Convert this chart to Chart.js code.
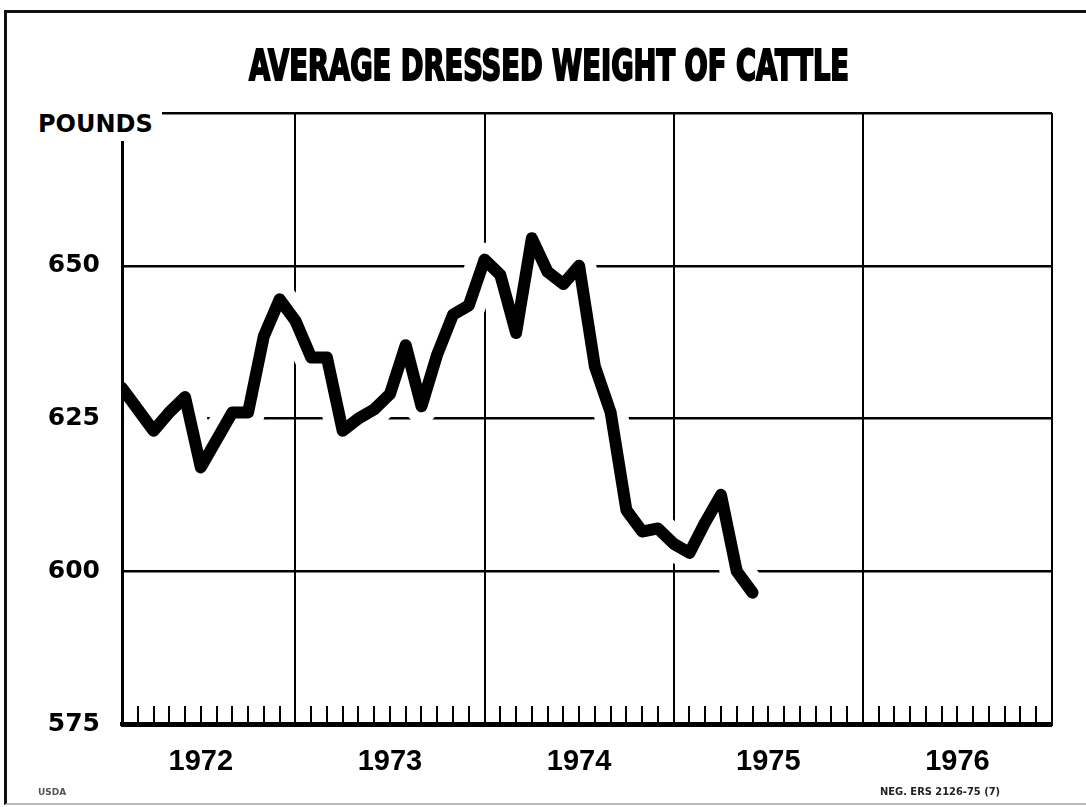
<!DOCTYPE html>
<html lang="en">
<head>
  <meta charset="UTF-8" />
  <title>Average Dressed Weight of Cattle</title>
  <script src="https://cdn.jsdelivr.net/npm/chart.js"></script>
  <style>
    html, body { margin: 0; padding: 0; background: #fff; }
    #page { position: relative; width: 1086px; height: 807px; overflow: hidden; background: #fff; }
    #frame {
      position: absolute; left: 4px; top: 10px; width: 1100px; height: 790px;
      border-left: 3px solid #111; border-top: 3px solid #111; border-bottom: 2px solid #bbb;
    }
    #chart { position: absolute; left: 0; top: 0; }
    #title {
      position: absolute; left: 249px; top: 45px;
      font: bold 42px "Liberation Sans Narrow", "DejaVu Sans Condensed", sans-serif;
      line-height: 1; white-space: nowrap; color: #000;
      -webkit-text-stroke: 2px #000; transform-origin: 0 0;
    }
    #pounds { position: absolute; left: 28px; top: 100px; width: 134px; height: 41px; background: #fff; }
    #pounds span {
      position: absolute; left: 10px; top: 12px;
      font: bold 24px "DejaVu Sans", sans-serif; line-height: 1; color: #000;
    }
    .note { position: absolute; font-weight: bold; white-space: nowrap; color: #222; }
    #usda { left: 38px; top: 787px; font-size: 9px; font-family: "DejaVu Sans", sans-serif; color: #555; }
    #neg { left: 880px; top: 785px; font-size: 11px; font-family: "DejaVu Sans Condensed", "DejaVu Sans", sans-serif; }
  </style>
</head>
<body>
  <div id="page">
    <div id="frame"></div>
    <canvas id="chart" width="1086" height="807"></canvas>
    <div id="title">AVERAGE DRESSED WEIGHT OF CATTLE</div>
    <div id="pounds"><span>POUNDS</span></div>
    <div class="note" id="usda">USDA</div>
    <div class="note" id="neg">NEG. ERS 2126-75 (7)</div>
  </div>

  <script>
    // month index: Jan 1972 = 0; the plotted series starts one month in (Feb 1972)
    const firstMonth = 1;
    const weights = [
      630, 626.5, 623, 626, 628.5, 617, 621.5, 626, 626, 638.5, 644.5, 641,
      635, 635, 623, 625, 626.5, 629, 637, 627, 635.5, 642, 643.5, 651,
      648.5, 639, 654.5, 649, 647, 650, 633.5, 626, 610, 606.5, 607, 604.5,
      603, 608, 612.5, 600, 596.5
    ];
    const yearLabels = ['1972', '1973', '1974', '1975', '1976'];
    const yTicks = [575, 600, 625, 650, 675];
    const yLabels = ['575', '600', '625', '650', ''];

    const points = weights.map((w, i) => ({ x: firstMonth + i, y: w }));
    const monthTicks = [];
    for (let m = 2; m <= 60; m++) monthTicks.push(m);

    const ctx = document.getElementById('chart').getContext('2d');
    new Chart(ctx, {
      type: 'line',
      data: {
        datasets: [
          {
            // white halo so the grid breaks around the curve
            label: 'halo',
            data: points,
            borderColor: '#fff',
            borderWidth: 34,
            borderJoinStyle: 'round',
            borderCapStyle: 'round',
            pointRadius: 0,
            tension: 0,
            clip: 0,
            order: 2
          },
          {
            label: 'Pounds',
            data: points,
            borderColor: '#000',
            borderWidth: 12,
            borderJoinStyle: 'round',
            borderCapStyle: 'round',
            pointRadius: 0,
            tension: 0,
            clip: 0,
            order: 1
          }
        ]
      },
      options: {
        responsive: false,
        animation: false,
        layout: { padding: { top: 113, right: 34, bottom: 0, left: 32 } },
        plugins: { legend: { display: false }, tooltip: { enabled: false } },
        scales: {
          x: {
            type: 'linear',
            min: 1,
            max: 60,
            afterBuildTicks: s => { s.ticks = monthTicks.map(v => ({ value: v })); },
            afterFit: s => { s.height = 83; },
            ticks: {
              autoSkip: false,
              maxRotation: 0,
              padding: 20,
              color: '#000',
              font: { family: '"Liberation Sans", Arial, sans-serif', size: 29, weight: 'bold', lineHeight: 2.5 },
              callback: v => (v % 12 === 6 ? yearLabels[(v - 6) / 12] : '')
            },
            grid: {
              color: c => (c.tick && c.tick.value % 12 === 0 ? '#000' : 'rgba(0,0,0,0)'),
              lineWidth: 2,
              tickColor: '#000',
              tickWidth: 2,
              tickLength: -18
            },
            border: { display: true, color: '#000', width: 4, z: 1 }
          },
          y: {
            min: 575,
            max: 675,
            afterBuildTicks: s => { s.ticks = yTicks.map(v => ({ value: v })); },
            afterFit: s => { s.width = 90; },
            ticks: {
              padding: 22,
              color: '#000',
              font: { family: '"DejaVu Sans", sans-serif', size: 25, weight: 'bold' },
              callback: v => yLabels[yTicks.indexOf(v)]
            },
            grid: {
              color: '#000',
              lineWidth: c => (c.tick && c.tick.value === 575 ? 5 : 2.5),
              drawTicks: false
            },
            border: { display: true, color: '#000', width: 3, z: 1 }
          }
        }
      }
    });

    function fitTitle() {
      const t = document.getElementById('title');
      t.style.transform = 'none';
      const w = t.getBoundingClientRect().width;
      t.style.transform = 'scaleX(' + (600 / w) + ')';
    }
    fitTitle();
    if (document.fonts) document.fonts.ready.then(fitTitle);
  </script>
</body>
</html>
